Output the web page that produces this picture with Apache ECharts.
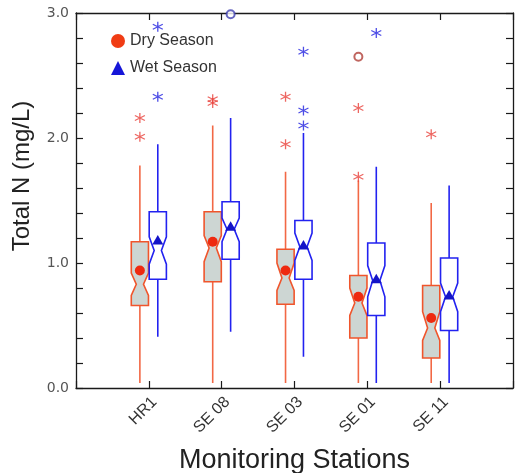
<!DOCTYPE html>
<html>
<head>
<meta charset="utf-8">
<script src="https://cdn.jsdelivr.net/npm/echarts@6/dist/echarts.min.js"></script>
<style>
    html, body { margin: 0; padding: 0; background: #fff; }
    #chart { width: 515px; height: 473px; }
</style>
</head>
<body>
<div id="chart"></div>
<script>
    // stations on the x axis (placed at 1..5 on a 0..6 value axis)
    var stations = ['HR1', 'SE 08', 'SE 03', 'SE 01', 'SE 11'];

    // [lower whisker, q1, median, q3, upper whisker]
    var dryStats = [
        [0.04, 0.66, 0.83, 1.17, 1.78],
        [0.04, 0.85, 1.12, 1.41, 2.10],
        [0.04, 0.67, 0.88, 1.11, 1.73],
        [0.04, 0.40, 0.68, 0.90, 1.66],
        [0.04, 0.24, 0.48, 0.82, 1.48]
    ];
    var wetStats = [
        [0.41, 0.87, 1.10, 1.41, 1.95],
        [0.45, 1.03, 1.27, 1.49, 2.16],
        [0.25, 0.87, 1.13, 1.34, 2.04],
        [0.04, 0.58, 0.86, 1.16, 1.77],
        [0.04, 0.46, 0.73, 1.04, 1.62]
    ];
    // notch [low, high]
    var dryNotch = [[0.74, 0.92], [1.01, 1.22], [0.78, 1.00], [0.58, 0.80], [0.38, 0.61]];
    var wetNotch = [[0.99, 1.21], [1.17, 1.36], [1.02, 1.24], [0.73, 0.98], [0.61, 0.84]];
    var dryMean = [0.94, 1.17, 0.94, 0.73, 0.56];
    var wetMean = [1.18, 1.29, 1.14, 0.87, 0.74];

    // outliers (asterisks) and extreme values (circles)
    var dryOutliers = [[2.01, 2.16], [2.28, 2.31], [1.95, 2.33], [1.69, 2.24], [2.03]];
    var wetOutliers = [[2.33, 2.89], [], [2.10, 2.22, 2.69], [2.84], []];
    var dryExtremes = [[], [], [], [2.65], []];
    var wetExtremes = [[], [2.99], [], [], []];

    var yTicks = [0, 1, 2, 3];

    var OFFSET = 0.123;
    var DRY = '#f0552c', WET = '#2222f0';
    var asterisk = 'path://M0,-6L0,6M-5.2,-3L5.2,3M-5.2,3L5.2,-3';

    function boxData(stats, notch, mean, shift) {
        return stats.map(function (s, i) {
            return [i + 1 + shift, s[0], s[1], notch[i][0], s[2], notch[i][1], s[3], s[4], mean[i]];
        });
    }

    function pointData(list, shift) {
        var out = [];
        list.forEach(function (vals, i) {
            vals.forEach(function (v) { out.push([i + 1 + shift, v]); });
        });
        return out;
    }

    function makeRender(opt) {
        return function (params, api) {
            var x = api.value(0);
            var pt = function (idx) { return api.coord([x, api.value(idx)]); };
            var half = api.size([1, 0])[0] * 0.118;
            var inner = half * 0.42;
            var lo = pt(1), q1 = pt(2), nLo = pt(3), med = pt(4), nHi = pt(5), q3 = pt(6), hi = pt(7), mean = pt(8);
            var cx = lo[0];
            var lineStyle = { stroke: opt.whisker, lineWidth: 1.6 };
            var children = [
                { type: 'line', shape: { x1: cx, y1: lo[1], x2: cx, y2: q1[1] }, style: lineStyle },
                { type: 'line', shape: { x1: cx, y1: q3[1], x2: cx, y2: hi[1] }, style: lineStyle },
                {
                    type: 'polygon',
                    shape: {
                        points: [
                            [cx - half, q3[1]], [cx + half, q3[1]], [cx + half, nHi[1]],
                            [cx + inner, med[1]], [cx + half, nLo[1]], [cx + half, q1[1]],
                            [cx - half, q1[1]], [cx - half, nLo[1]], [cx - inner, med[1]],
                            [cx - half, nHi[1]]
                        ]
                    },
                    style: { fill: opt.fill, stroke: opt.stroke, lineWidth: 1.6 }
                }
            ];
            if (opt.mean === 'circle') {
                children.push({
                    type: 'circle', shape: { cx: cx, cy: mean[1], r: 5 },
                    style: { fill: opt.meanColor }
                });
            } else {
                children.push({
                    type: 'polygon',
                    shape: { points: [[cx, mean[1] - 5.5], [cx + 5.5, mean[1] + 4], [cx - 5.5, mean[1] + 4]] },
                    style: { fill: opt.meanColor }
                });
            }
            return { type: 'group', children: children };
        };
    }

    var chart = echarts.init(document.getElementById('chart'));

    var axisLine = { show: true, onZero: false, lineStyle: { color: '#1a1a1a', width: 1.3 } };
    var axisTick = { show: true, inside: true, length: 7, lineStyle: { color: '#1a1a1a', width: 1.2 } };

    chart.setOption({
        backgroundColor: '#fff',
        animation: false,
        grid: { left: 76, right: 2, top: 13, bottom: 85, outerBoundsMode: 'none', containLabel: false },
        legend: {
            left: 106,
            top: 28,
            orient: 'vertical',
            itemWidth: 14,
            itemHeight: 14,
            itemGap: 11,
            textStyle: { fontFamily: 'Liberation Sans', fontSize: 16, color: '#333' },
            data: [
                { name: 'Dry Season', icon: 'circle', itemStyle: { color: '#f03c14' } },
                { name: 'Wet Season', icon: 'triangle', itemStyle: { color: '#1616d8' } }
            ]
        },
        xAxis: [{
            type: 'value',
            min: 0,
            max: 6,
            interval: 1,
            axisLine: axisLine,
            axisTick: axisTick,
            splitLine: { show: false },
            axisLabel: {
                rotate: 45,
                margin: 6,
                verticalAlign: 'top',
                fontFamily: 'Liberation Sans',
                fontSize: 16,
                color: '#333',
                formatter: function (v) { return stations[v - 1] || ''; }
            },
            name: 'Monitoring Stations',
            nameLocation: 'middle',
            nameGap: 59,
            nameTextStyle: { fontFamily: 'Liberation Sans', fontSize: 27, color: '#222' }
        }, {
            type: 'value',
            position: 'top',
            min: 0,
            max: 6,
            interval: 1,
            axisLine: axisLine,
            axisTick: axisTick,
            axisLabel: { show: false },
            splitLine: { show: false }
        }],
        yAxis: [{
            type: 'value',
            min: 0,
            max: 3,
            interval: 0.2,
            axisLine: axisLine,
            axisTick: axisTick,
            splitLine: { show: false },
            axisLabel: {
                fontFamily: 'DejaVu Sans',
                fontSize: 14,
                color: '#555',
                margin: 7,
                formatter: function (v) {
                    var r = Math.round(v);
                    return (Math.abs(v - r) < 1e-6 && yTicks.indexOf(r) >= 0) ? r.toFixed(1) : '';
                }
            }
        }, {
            type: 'value',
            position: 'right',
            min: 0,
            max: 3,
            interval: 0.2,
            axisLine: axisLine,
            axisTick: axisTick,
            axisLabel: { show: false },
            splitLine: { show: false }
        }],
        graphic: [{
            type: 'text',
            x: 22,
            y: 176,
            rotation: Math.PI / 2,
            style: {
                text: 'Total N (mg/L)',
                font: '24px "Liberation Sans"',
                fill: '#222',
                align: 'center',
                verticalAlign: 'middle'
            }
        }],
        series: [{
            name: 'Dry Season',
            type: 'custom',
            itemStyle: { color: '#f03c14' },
            renderItem: makeRender({ stroke: DRY, fill: '#cdd6d3', whisker: '#f26845', mean: 'circle', meanColor: '#ee2a10' }),
            encode: { x: 0, y: [1, 2, 3, 4, 5, 6, 7, 8] },
            data: boxData(dryStats, dryNotch, dryMean, -OFFSET),
            z: 2
        }, {
            name: 'Wet Season',
            type: 'custom',
            itemStyle: { color: '#1616d8' },
            renderItem: makeRender({ stroke: WET, fill: '#fff', whisker: WET, mean: 'triangle', meanColor: '#1414c8' }),
            encode: { x: 0, y: [1, 2, 3, 4, 5, 6, 7, 8] },
            data: boxData(wetStats, wetNotch, wetMean, OFFSET),
            z: 2
        }, {
            name: 'Dry Season',
            type: 'scatter',
            symbol: asterisk,
            symbolSize: 10,
            itemStyle: { color: 'rgba(0,0,0,0)', borderColor: '#e8403a', borderWidth: 1.3 },
            data: pointData(dryOutliers, -OFFSET),
            z: 3
        }, {
            name: 'Wet Season',
            type: 'scatter',
            symbol: asterisk,
            symbolSize: 10,
            itemStyle: { color: 'rgba(0,0,0,0)', borderColor: '#2020e0', borderWidth: 1.3 },
            data: pointData(wetOutliers, OFFSET),
            z: 3
        }, {
            name: 'Dry Season',
            type: 'scatter',
            symbol: 'emptyCircle',
            symbolSize: 8,
            itemStyle: { color: '#b04038', borderWidth: 1.3 },
            data: pointData(dryExtremes, -OFFSET),
            z: 3
        }, {
            name: 'Wet Season',
            type: 'scatter',
            symbol: 'emptyCircle',
            symbolSize: 8,
            itemStyle: { color: '#4040b0', borderWidth: 1.3 },
            data: pointData(wetExtremes, OFFSET),
            z: 3
        }]
    });
</script>
</body>
</html>
